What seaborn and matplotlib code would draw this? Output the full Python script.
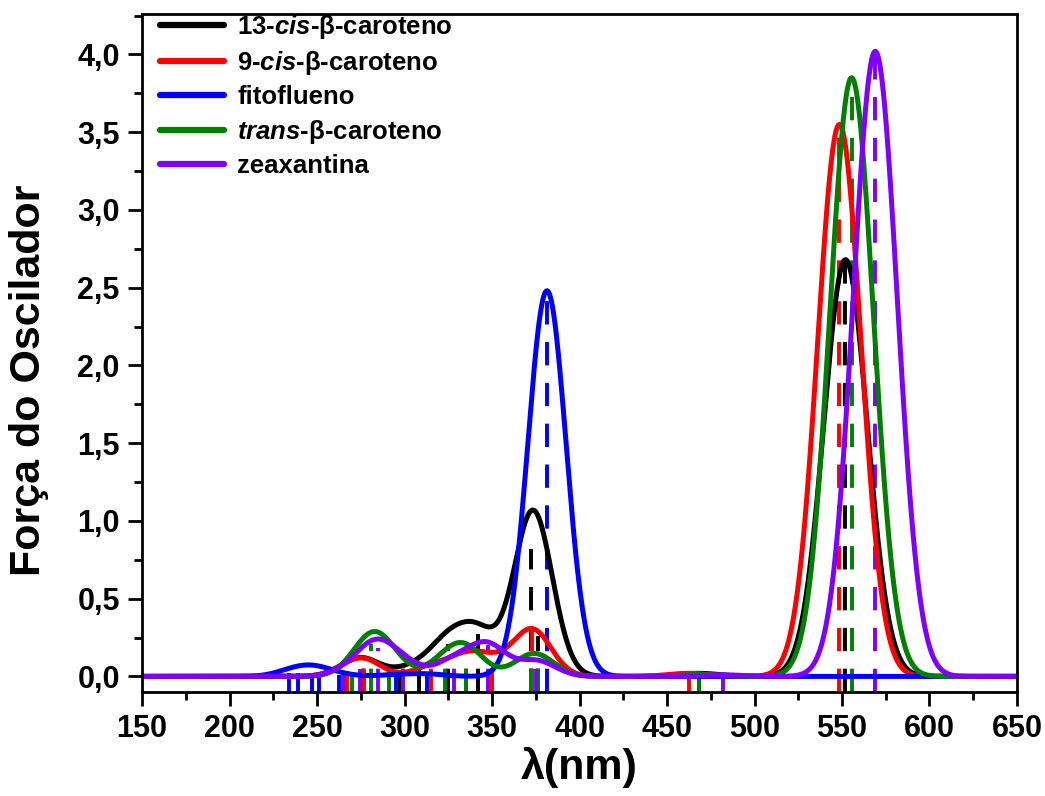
import numpy as np
import pandas as pd
import matplotlib
matplotlib.use("Agg")
import matplotlib.pyplot as plt
from matplotlib.ticker import MultipleLocator, FuncFormatter
from matplotlib.lines import Line2D
import seaborn as sns

# transitions: wavelength (nm) and oscillator strength
black_wl = [552.0, 468.0, 376.5, 372.5, 342.0, 325.0, 308.5, 297.4, 276.5, 266.6]
black_f = [2.68, 0.02, 0.26, 0.82, 0.27, 0.21, 0.05, 0.02, 0.10, 0.03]

red_wl = [548.5, 462.3, 373.0, 350.0, 335.0, 315.3, 276.9, 266.9]
red_f = [3.55, 0.02, 0.30, 0.08, 0.12, 0.06, 0.10, 0.03]

blue_wl = [381.4, 312.9, 295.4, 262.5, 251.0, 247.4, 239.3, 233.9]
blue_f = [2.48, 0.015, 0.01, 0.01, 0.025, 0.025, 0.02, 0.02]

green_wl = [555.5, 468.5, 376.0, 372.0, 335.0, 323.0, 291.4, 280.9, 270.0]
green_f = [3.85, 0.012, 0.08, 0.07, 0.17, 0.08, 0.10, 0.21, 0.03]

purple_wl = [569.0, 482.0, 375.4, 347.5, 328.3, 299.4, 284.6, 274.6, 265.1]
purple_f = [4.02, 0.01, 0.10, 0.20, 0.10, 0.08, 0.18, 0.05, 0.02]

names = ["13-cis-β-caroteno", "9-cis-β-caroteno", "fitoflueno",
         "trans-β-caroteno", "zeaxantina"]
labels = [r"13-$\mathit{cis}$-β-caroteno", r"9-$\mathit{cis}$-β-caroteno",
          "fitoflueno", r"$\mathit{trans}$-β-caroteno", "zeaxantina"]
colors = ["#000000", "#FF0000", "#0000FF", "#008000", "#8000FF"]
sticks = [(black_wl, black_f), (red_wl, red_f), (blue_wl, blue_f),
          (green_wl, green_f), (purple_wl, purple_f)]

# gaussian broadening (width grows a little with wavelength)
wl = np.linspace(150, 650, 2501)
rows = []
for name, (pos, f) in zip(names, sticks):
    y = np.zeros_like(wl)
    for p, h in zip(pos, f):
        s = 7.45 + 0.009 * p
        y += h * np.exp(-(wl - p) ** 2 / (2 * s ** 2))
    rows.append(pd.DataFrame({"wl": wl, "f": y, "mol": name}))
df = pd.concat(rows, ignore_index=True)

sns.set_style("ticks")
plt.rcParams["font.family"] = ["Liberation Sans", "DejaVu Sans"]
plt.rcParams["font.weight"] = "bold"
plt.rcParams["mathtext.fontset"] = "custom"
plt.rcParams["mathtext.it"] = "Liberation Sans:italic:bold"
plt.rcParams["mathtext.rm"] = "Liberation Sans:bold"
for k in ["text.color", "axes.labelcolor", "xtick.color", "ytick.color", "axes.edgecolor"]:
    plt.rcParams[k] = "black"

fig = plt.figure(figsize=(10.45, 7.96), dpi=100)
ax = fig.add_axes([0.1359, 0.1307, 0.9732 - 0.1359, 0.9824 - 0.1307])

ymin = -0.1
for (pos, f), c in zip(sticks, colors):
    ax.vlines(pos, ymin, f, colors=c, linewidth=2.8, linestyles=(0, (6.0, 4.5)), zorder=1)

sns.lineplot(data=df, x="wl", y="f", hue="mol", palette=dict(zip(names, colors)),
             linewidth=3.6, legend=False, ax=ax, zorder=2, sort=False)

ax.set_xlim(150, 650)
ax.set_ylim(ymin, 4.26)
ax.xaxis.set_major_locator(MultipleLocator(50))
ax.xaxis.set_minor_locator(MultipleLocator(25))
ax.yaxis.set_major_locator(MultipleLocator(0.5))
ax.yaxis.set_minor_locator(MultipleLocator(0.25))
ax.yaxis.set_major_formatter(FuncFormatter(lambda v, p: f"{v:.1f}".replace(".", ",")))
ax.tick_params(which="major", direction="out", length=10, width=2, labelsize=22, pad=6)
ax.tick_params(which="minor", direction="out", length=6, width=2)
for sp in ax.spines.values():
    sp.set_linewidth(2)

ax.set_xlabel("λ(nm)", fontsize=31, fontweight="bold", labelpad=2)
ax.set_ylabel("Força do Oscilador", fontsize=31, fontweight="bold")
ax.yaxis.set_label_coords(-0.106, 0.46)

handles = [Line2D([], [], color=c, linewidth=4.5) for c in colors]
ax.legend(handles, labels, loc="upper left", bbox_to_anchor=(0.0, 1.028), frameon=False,
          fontsize=18.5, handlelength=2.5, handletextpad=0.5, labelspacing=0.32,
          borderaxespad=0.3)

fig.savefig("out.png", dpi=100)
